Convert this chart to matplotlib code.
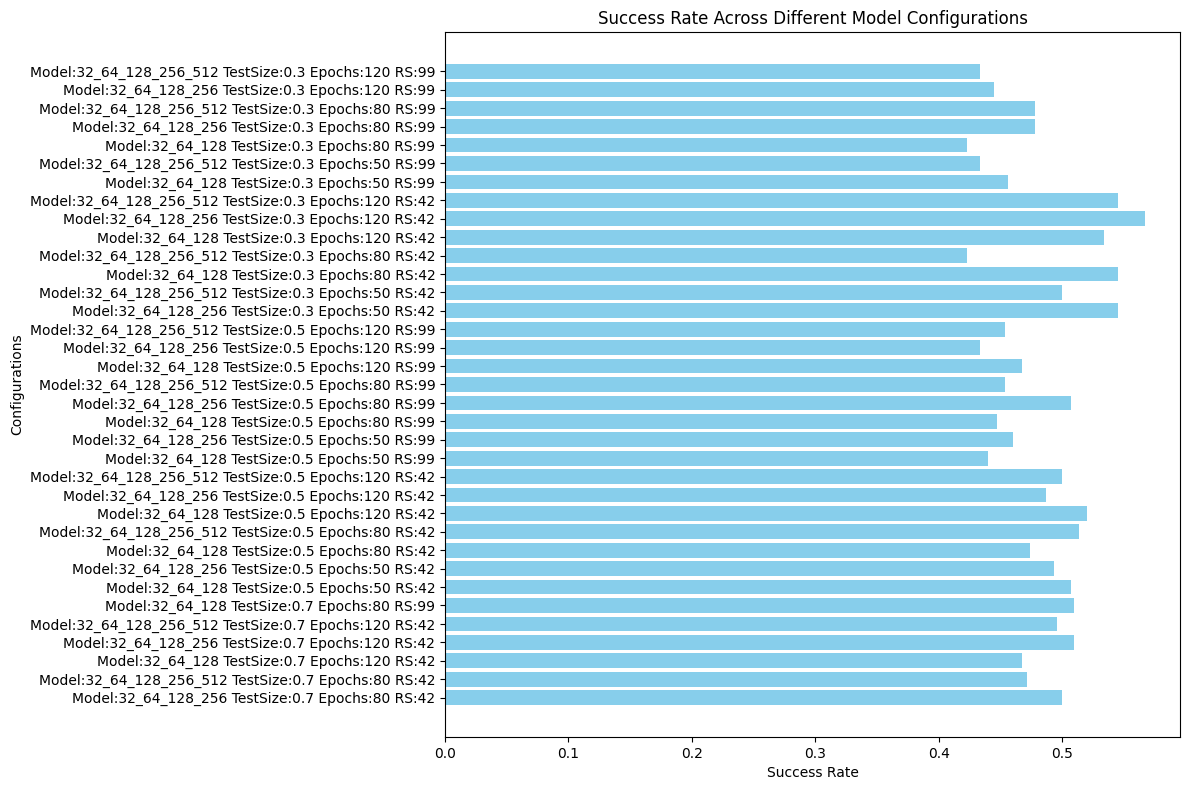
import matplotlib
matplotlib.use("Agg")
import matplotlib.pyplot as plt

# Listed bottom to top
configs = [
    "Model:32_64_128_256 TestSize:0.7 Epochs:80 RS:42",
    "Model:32_64_128_256_512 TestSize:0.7 Epochs:80 RS:42",
    "Model:32_64_128 TestSize:0.7 Epochs:120 RS:42",
    "Model:32_64_128_256 TestSize:0.7 Epochs:120 RS:42",
    "Model:32_64_128_256_512 TestSize:0.7 Epochs:120 RS:42",
    "Model:32_64_128 TestSize:0.7 Epochs:80 RS:99",
    "Model:32_64_128 TestSize:0.5 Epochs:50 RS:42",
    "Model:32_64_128_256 TestSize:0.5 Epochs:50 RS:42",
    "Model:32_64_128 TestSize:0.5 Epochs:80 RS:42",
    "Model:32_64_128_256_512 TestSize:0.5 Epochs:80 RS:42",
    "Model:32_64_128 TestSize:0.5 Epochs:120 RS:42",
    "Model:32_64_128_256 TestSize:0.5 Epochs:120 RS:42",
    "Model:32_64_128_256_512 TestSize:0.5 Epochs:120 RS:42",
    "Model:32_64_128 TestSize:0.5 Epochs:50 RS:99",
    "Model:32_64_128_256 TestSize:0.5 Epochs:50 RS:99",
    "Model:32_64_128 TestSize:0.5 Epochs:80 RS:99",
    "Model:32_64_128_256 TestSize:0.5 Epochs:80 RS:99",
    "Model:32_64_128_256_512 TestSize:0.5 Epochs:80 RS:99",
    "Model:32_64_128 TestSize:0.5 Epochs:120 RS:99",
    "Model:32_64_128_256 TestSize:0.5 Epochs:120 RS:99",
    "Model:32_64_128_256_512 TestSize:0.5 Epochs:120 RS:99",
    "Model:32_64_128_256 TestSize:0.3 Epochs:50 RS:42",
    "Model:32_64_128_256_512 TestSize:0.3 Epochs:50 RS:42",
    "Model:32_64_128 TestSize:0.3 Epochs:80 RS:42",
    "Model:32_64_128_256_512 TestSize:0.3 Epochs:80 RS:42",
    "Model:32_64_128 TestSize:0.3 Epochs:120 RS:42",
    "Model:32_64_128_256 TestSize:0.3 Epochs:120 RS:42",
    "Model:32_64_128_256_512 TestSize:0.3 Epochs:120 RS:42",
    "Model:32_64_128 TestSize:0.3 Epochs:50 RS:99",
    "Model:32_64_128_256_512 TestSize:0.3 Epochs:50 RS:99",
    "Model:32_64_128 TestSize:0.3 Epochs:80 RS:99",
    "Model:32_64_128_256 TestSize:0.3 Epochs:80 RS:99",
    "Model:32_64_128_256_512 TestSize:0.3 Epochs:80 RS:99",
    "Model:32_64_128_256 TestSize:0.3 Epochs:120 RS:99",
    "Model:32_64_128_256_512 TestSize:0.3 Epochs:120 RS:99",
]

success_rates = [
    0.500, 0.4716, 0.467, 0.5097, 0.496, 0.5097,
    0.507, 0.4935, 0.474, 0.5138, 0.520, 0.487, 0.500,
    0.440, 0.460, 0.447, 0.507, 0.454, 0.467, 0.4335, 0.454,
    0.545, 0.500, 0.545, 0.423, 0.534, 0.567, 0.545,
    0.456, 0.4335, 0.423, 0.478, 0.478, 0.445, 0.4335,
]

fig, ax = plt.subplots(figsize=(11.89, 7.9), dpi=100)
ax.barh(configs, success_rates, color="skyblue")
ax.set_xlabel("Success Rate")
ax.set_ylabel("Configurations")
ax.set_title("Success Rate Across Different Model Configurations")
fig.subplots_adjust(left=0.3743, right=0.9924, top=0.9595, bottom=0.0671)
plt.savefig("out.png", dpi=100)
